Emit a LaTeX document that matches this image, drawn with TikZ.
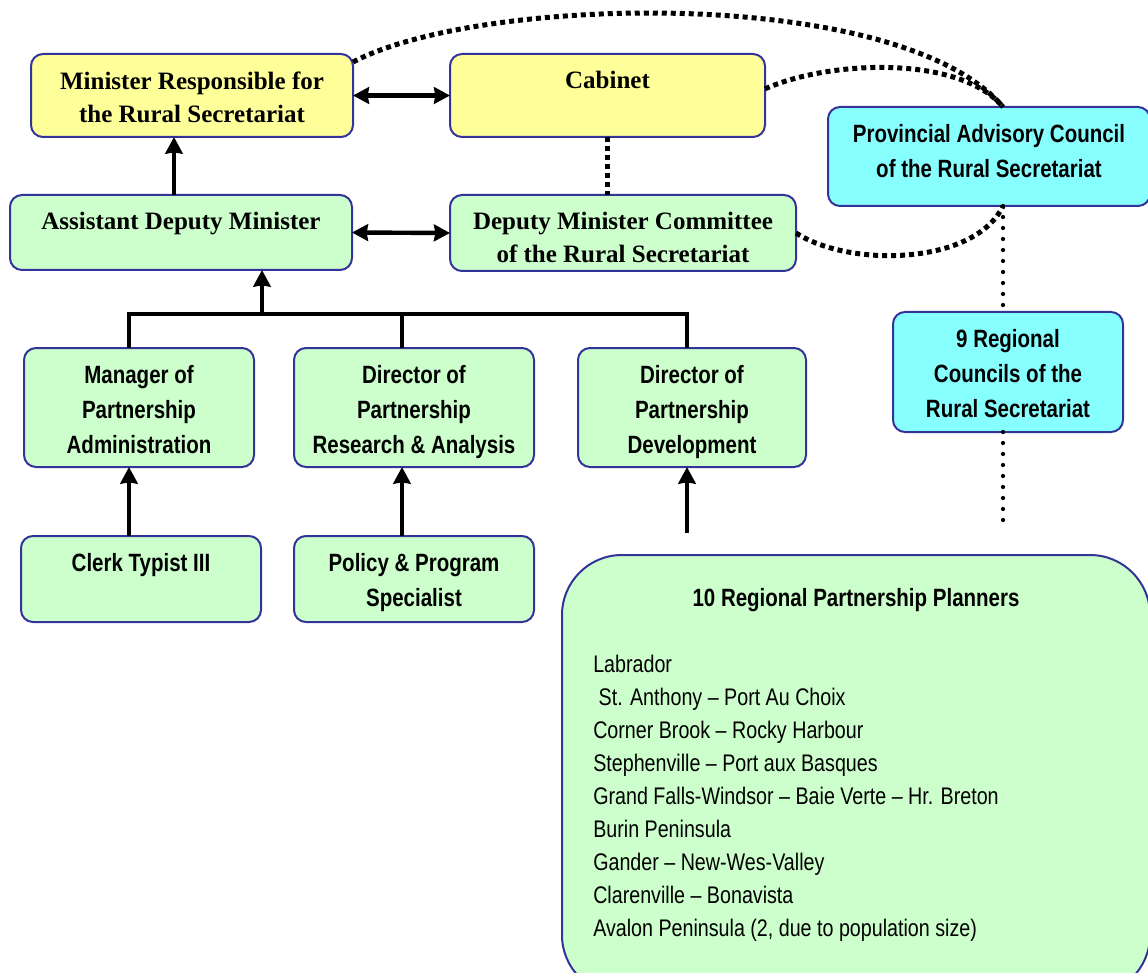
\documentclass[tikz,border=0pt]{standalone}
\usepackage{fontspec}
\setmainfont{Liberation Serif}
\newfontfamily\narrowsans[FakeStretch=0.82]{Liberation Sans}
\usetikzlibrary{arrows.meta,calc}
\definecolor{bordercol}{HTML}{333399}
\definecolor{yel}{HTML}{FFFF99}
\definecolor{grn}{HTML}{CCFFCC}
\definecolor{cyn}{HTML}{88FFFF}
\tikzset{
  box/.style={draw=bordercol,line width=1.5pt,rounded corners=9pt,rectangle,inner sep=0pt,outer sep=0pt},
  serifb/.style={font=\fontsize{18.75pt}{24.75pt}\selectfont\bfseries,align=center,inner sep=0pt},
  sansb/.style={font=\narrowsans\fontsize{18.75pt}{26pt}\selectfont\bfseries,align=center,inner sep=0pt},
  sansr/.style={font=\narrowsans\fontsize{18pt}{24.75pt}\selectfont,align=left,inner sep=0pt},
  ln/.style={line width=3.3pt,line join=miter},
  arr/.style={line width=3.3pt,-{Stealth[length=12.5pt,width=13pt,inset=1pt]}},
  darr/.style={line width=3.3pt,{Stealth[length=12pt,width=12.5pt,inset=1pt]}-{Stealth[length=12pt,width=12.5pt,inset=1pt]}},
  sqdots/.style={line width=3.75pt,dash pattern=on 3.75pt off 3pt},
  rddots/.style={line width=3.2pt,line cap=round,dash pattern=on 0pt off 8.25pt},
}
\newcommand{\obox}[8]{%
  \node[box,#2,minimum width=#5,minimum height=#6,anchor=north west] (#1) at (#3,#4) {};
  \node[#7,anchor=north] (#1-t) at ([yshift=-13pt]#1.north) {#8};}
\begin{document}
\begin{tikzpicture}[x=0.75pt,y=-0.75pt]
\useasboundingbox (0,0) rectangle (1148,973);
\clip (0,0) rectangle (1148,973);
% boxes
\obox{min}{fill=yel}{31}{54}{241.5pt}{62.25pt}{serifb}{Minister Responsible for\\the Rural Secretariat}
\obox{cab}{fill=yel}{450}{54}{236.25pt}{62.25pt}{serifb}{Cabinet}
\obox{pac}{fill=cyn}{828}{107}{241.5pt}{74.25pt}{sansb}{Provincial Advisory Council\\of the Rural Secretariat}
\obox{adm}{fill=grn}{10}{195}{256.5pt}{56.25pt}{serifb}{Assistant Deputy Minister}
\obox{dmc}{fill=grn}{450}{195}{259.5pt}{57pt}{serifb}{Deputy Minister Committee\\of the Rural Secretariat}
\obox{reg}{fill=cyn}{893}{312}{172.5pt}{90pt}{sansb}{9 Regional\\Councils of the\\Rural Secretariat}
\obox{mgr}{fill=grn}{24}{348}{172.5pt}{89.25pt}{sansb}{Manager of\\Partnership\\Administration}
\obox{dra}{fill=grn}{294}{348}{180pt}{89.25pt}{sansb}{Director of\\Partnership\\Research \& Analysis}
\obox{dpd}{fill=grn}{578}{348}{171pt}{89.25pt}{sansb}{Director of\\Partnership\\Development}
\obox{clk}{fill=grn}{21}{536}{180pt}{64.5pt}{sansb}{Clerk Typist III}
\obox{pol}{fill=grn}{294}{536}{180pt}{64.5pt}{sansb}{Policy \& Program\\Specialist}
\node[box,fill=grn,rounded corners=45pt,minimum width=441pt,minimum height=330pt,anchor=north west] (rpp) at (562,555) {};
\node[sansb,anchor=north] (rpp-t) at ([yshift=-24.75pt]rpp.north) {10 Regional Partnership Planners};
\node[sansr,anchor=north west] (rpp-l) at ([xshift=23.25pt,yshift=-75pt]rpp.north west)
 {Labrador\\\ St. Anthony – Port Au Choix\\Corner Brook – Rocky Harbour\\Stephenville – Port aux Basques\\Grand Falls-Windsor – Baie Verte – Hr. Breton\\Burin Peninsula\\Gander – New-Wes-Valley\\Clarenville – Bonavista\\Avalon Peninsula (2, due to population size)};
% helper coordinates
\coordinate (xa) at (174,0);
\coordinate (t1) at (129,314);
\coordinate (t2) at (402,314);
\coordinate (t3) at (687,314);
\coordinate (tm) at (262,314);
\coordinate (xp) at (1003,0);
\coordinate (devfree) at (687,533);
\coordinate (regfree) at (1003,530);
% solid connectors
\draw[arr] (adm.north -| xa) -- (min.south -| xa);
\draw[darr] (min.east) -- (cab.west);
\draw[darr] (adm.east) -- (dmc.west);
\draw[ln] (mgr.north -| t1) -- (t1) -- (t3) -- (dpd.north -| t3);
\draw[ln] (t2) -- (dra.north -| t2);
\draw[arr] (tm) -- (adm.south -| tm);
\draw[arr] (clk.north -| t1) -- (mgr.south -| t1);
\draw[arr] (pol.north -| t2) -- (dra.south -| t2);
\draw[arr] (devfree) -- (dpd.south -| devfree);
% dotted connectors
\draw[sqdots] (cab.south) -- (cab.south |- dmc.north);
\draw[sqdots] ([yshift=-6pt]min.north east) .. controls (480,-5) and (900,-15) .. (pac.north -| xp);
\draw[sqdots] ([yshift=5pt]cab.east) .. controls (830,60) and (960,55) .. (pac.north -| xp);
\draw[sqdots] (dmc.east) .. controls (850,268) and (975,265) .. (pac.south -| xp);
\draw[rddots] (pac.south -| xp) -- (reg.north -| xp);
\draw[rddots] (reg.south -| xp) -- (regfree);
\end{tikzpicture}
\end{document}
